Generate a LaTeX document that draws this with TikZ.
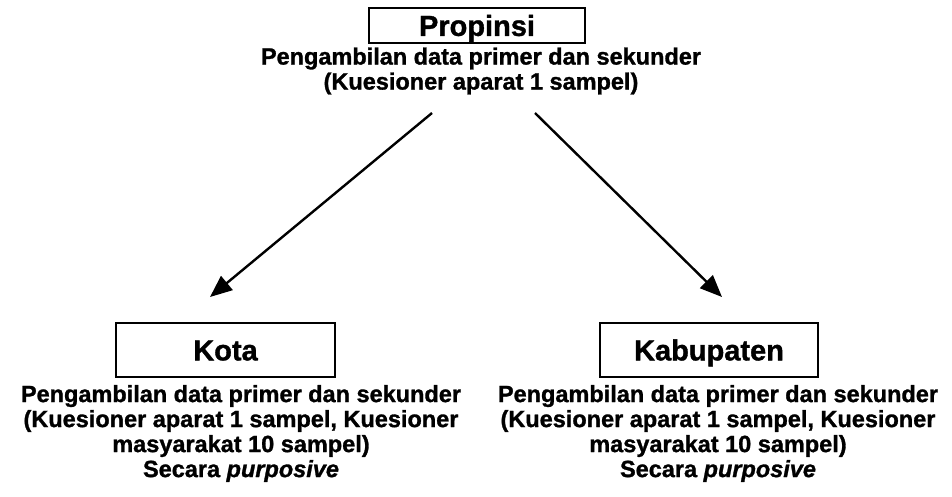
\documentclass[tikz,border=0pt]{standalone}
\usepackage{fontspec}
\setmainfont[BoldFeatures={FakeBold=1.2}, BoldItalicFeatures={FakeBold=1.2}]{Liberation Sans}
\usetikzlibrary{arrows.meta}
\tikzset{
  levelbox/.style={draw=black, line width=1.4pt, minimum width=216pt, minimum height=35pt, inner sep=0pt, text height=20.8pt, text depth=0pt, font=\fontsize{29}{31}\selectfont\bfseries},
  infotext/.style={align=center, inner sep=0pt, font=\fontsize{23.5}{25}\selectfont\bfseries},
  flowarrow/.style={line width=2.4pt, -{Triangle[length=22pt,width=18pt]}}
}
\begin{document}
\begin{tikzpicture}[x=1pt,y=-1pt]
\useasboundingbox[fill=white] (0,0) rectangle (952,497);
\node[levelbox] (prov) at (477,25.5) {Propinsi};
\node[infotext] (provtext) at (481,71) {Pengambilan data primer dan sekunder\\(Kuesioner aparat 1 sampel)};
\node[levelbox, minimum height=54pt, minimum width=219pt] (kota) at (225.5,350) {Kota};
\node[levelbox, minimum height=54pt, minimum width=218pt] (kab) at (709,350) {Kabupaten};
\node[infotext] (kotatext) at (241,433.5) {Pengambilan data primer dan sekunder\\(Kuesioner aparat 1 sampel, Kuesioner\\masyarakat 10 sampel)\\Secara \textit{purposive}};
\node[infotext] (kabtext) at (718,433.5) {Pengambilan data primer dan sekunder\\(Kuesioner aparat 1 sampel, Kuesioner\\masyarakat 10 sampel)\\Secara \textit{purposive}};
\coordinate (ls) at (432,113);
\coordinate (le) at (210,297);
\coordinate (rs) at (535,113);
\coordinate (re) at (722,297);
\draw[flowarrow] (ls) -- (le);
\draw[flowarrow] (rs) -- (re);
\end{tikzpicture}
\end{document}
